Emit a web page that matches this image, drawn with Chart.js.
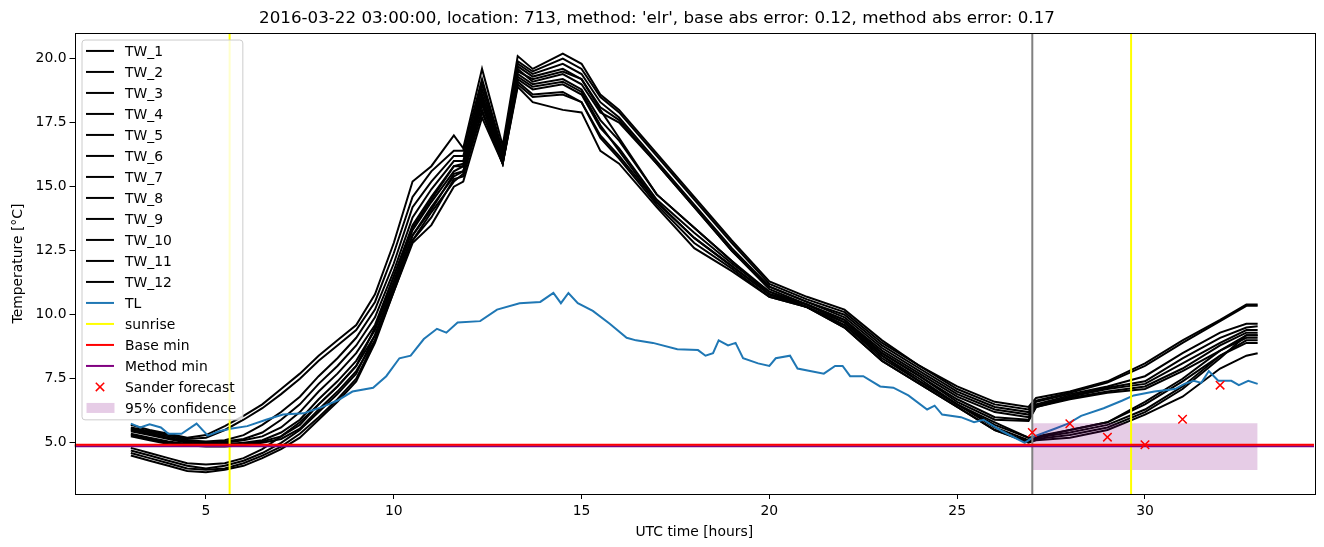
<!DOCTYPE html>
<html>
<head>
<meta charset="utf-8">
<script src="https://cdn.jsdelivr.net/npm/chart.js@4.4.0/dist/chart.umd.min.js"></script>
<style>
  html, body { margin: 0; padding: 0; background: #fff; }
</style>
</head>
<body>
<canvas id="temps" width="1324" height="547"></canvas>
<script>
// hours since 2016-03-22 00:00 UTC
const twTime = [3, 3.5, 4, 4.5, 5, 5.5, 6, 6.5, 7, 7.5, 8, 8.5, 9, 9.5, 10, 10.5, 11, 11.6, 11.85, 12.35,
  12.9, 13.3, 13.7, 14.5, 15, 15.5, 16, 17, 18, 19, 20, 21, 22, 23, 24, 25, 26, 26.9, 27.1, 28,
  29, 30, 31, 32, 32.7, 33];

const tw1 = [5.7, 5.5, 5.35, 5.2, 5.3, 5.65, 6.05, 6.5, 7.1, 7.7, 8.4, 9.0, 9.6, 10.8, 12.8, 15.2, 15.8, 17.0, 16.5, 19.6,
  16.6, 20.1, 19.6, 20.2, 19.8, 18.6, 18.0, 16.3, 14.6, 12.9, 11.3, 10.7, 10.2, 9.0, 8.0, 7.2, 6.6, 6.4, 6.75, 7.0,
  7.4, 8.1, 9.0, 9.8, 10.4, 10.4];
const tw2 = [5.6, 5.45, 5.3, 5.15, 5.2, 5.5, 5.9, 6.35, 6.9, 7.5, 8.2, 8.8, 9.4, 10.5, 12.4, 14.6, 15.6, 16.4, 16.4, 19.2,
  16.4, 19.9, 19.5, 20.0, 19.6, 18.5, 17.9, 16.2, 14.5, 12.8, 11.2, 10.6, 10.1, 8.9, 8.0, 7.1, 6.5, 6.3, 6.65, 6.95,
  7.35, 8.0, 8.9, 9.75, 10.35, 10.35];
const tw3 = [5.55, 5.4, 5.25, 5.1, 5.05, 5.1, 5.3, 5.7, 6.2, 6.8, 7.6, 8.3, 9.1, 10.2, 12.0, 14.2, 15.2, 16.2, 16.2, 19.0,
  16.3, 19.8, 19.4, 19.8, 19.4, 18.3, 17.7, 16.0, 14.3, 12.6, 11.1, 10.5, 10.0, 8.8, 7.9, 7.0, 6.4, 6.2, 6.6, 6.9,
  7.2, 7.6, 8.5, 9.3, 9.65, 9.65];
const tw4 = [5.5, 5.35, 5.2, 5.05, 5.0, 5.05, 5.15, 5.4, 5.9, 6.5, 7.3, 8.0, 8.8, 9.9, 11.7, 13.8, 14.9, 16.0, 16.0, 18.8,
  16.2, 19.7, 19.3, 19.6, 19.2, 18.1, 17.6, 15.9, 14.2, 12.5, 11.1, 10.5, 9.9, 8.7, 7.8, 6.9, 6.3, 6.1, 6.5, 6.85,
  7.15, 7.4, 8.3, 9.1, 9.5, 9.55];
const tw5 = [5.45, 5.3, 5.15, 5.0, 4.95, 5.0, 5.1, 5.25, 5.6, 6.2, 7.0, 7.7, 8.5, 9.6, 11.5, 13.5, 14.6, 15.8, 15.9, 18.6,
  16.1, 19.6, 19.1, 19.4, 19.0, 17.9, 17.5, 15.9, 14.2, 12.5, 11.0, 10.4, 9.8, 8.6, 7.7, 6.8, 6.2, 6.0, 6.45, 6.8,
  7.1, 7.3, 8.1, 8.9, 9.4, 9.4];
const tw6 = [5.35, 5.2, 5.05, 4.95, 4.9, 4.95, 5.0, 5.1, 5.4, 5.9, 6.7, 7.4, 8.2, 9.4, 11.3, 13.3, 14.4, 15.6, 15.8, 18.4,
  16.0, 19.4, 19.0, 19.2, 18.8, 17.6, 16.8, 14.7, 13.4, 12.1, 10.9, 10.4, 9.8, 8.5, 7.6, 6.7, 6.0, 5.9, 6.4, 6.75,
  7.0, 7.2, 7.9, 8.8, 9.3, 9.3];
const tw7 = [5.3, 5.15, 5.0, 4.95, 4.9, 4.9, 4.95, 5.05, 5.25, 5.7, 6.5, 7.2, 8.0, 9.2, 11.1, 13.1, 14.2, 15.4, 15.6, 18.2,
  15.9, 19.2, 18.8, 19.0, 18.6, 17.3, 16.5, 14.5, 13.2, 12.0, 10.9, 10.3, 9.7, 8.5, 7.6, 6.6, 5.9, 5.85, 6.4, 6.7,
  6.95, 7.1, 7.8, 8.6, 9.2, 9.2];
const tw8 = [5.25, 5.1, 4.95, 4.9, 4.85, 4.85, 4.9, 5.0, 5.15, 5.55, 6.3, 7.0, 7.8, 9.0, 10.9, 12.9, 14.0, 15.2, 15.5, 17.9,
  15.9, 19.0, 18.5, 18.6, 18.3, 17.0, 16.2, 14.4, 13.0, 11.9, 10.8, 10.3, 9.6, 8.4, 7.5, 6.5, 5.8, 5.2, 5.2, 5.5,
  5.8, 6.6, 7.5, 8.6, 9.1, 9.1];
const tw9 = [4.8, 4.6, 4.4, 4.2, 4.15, 4.2, 4.4, 4.75, 5.25, 5.8, 6.5, 7.2, 8.0, 9.5, 11.5, 13.4, 14.5, 15.8, 15.8, 18.5,
  16.2, 19.5, 19.2, 19.5, 19.2, 18.0, 16.9, 14.7, 13.4, 12.1, 10.8, 10.4, 9.7, 8.4, 7.4, 6.5, 5.7, 5.2, 5.25, 5.5,
  5.8, 6.5, 7.4, 8.4, 8.9, 8.9];
const tw10 = [4.7, 4.5, 4.3, 4.1, 4.0, 4.1, 4.3, 4.6, 5.0, 5.5, 6.2, 6.9, 7.7, 9.2, 11.2, 13.1, 14.1, 15.5, 15.6, 18.3,
  16.0, 19.3, 18.9, 19.1, 18.7, 17.4, 16.4, 14.4, 13.0, 11.9, 10.8, 10.3, 9.6, 8.3, 7.4, 6.5, 5.6, 5.1, 5.2, 5.4,
  5.7, 6.3, 7.2, 8.4, 9.0, 9.0];
const tw11 = [4.6, 4.4, 4.2, 4.0, 3.95, 4.0, 4.2, 4.5, 4.85, 5.35, 6.0, 6.7, 7.5, 9.0, 11.0, 12.9, 13.8, 15.3, 15.4, 18.0,
  15.9, 19.1, 18.6, 18.7, 18.3, 16.9, 16.1, 14.3, 12.8, 11.8, 10.7, 10.3, 9.5, 8.2, 7.3, 6.4, 5.5, 5.05, 5.15, 5.3,
  5.6, 6.2, 7.1, 8.3, 9.2, 9.2];
const tw12 = [4.5, 4.3, 4.1, 3.9, 3.85, 3.95, 4.1, 4.4, 4.75, 5.2, 5.9, 6.6, 7.4, 8.9, 10.9, 12.8, 13.5, 15.0, 15.2, 17.7,
  15.9, 18.9, 18.3, 18.0, 17.9, 16.4, 15.9, 14.2, 12.6, 11.7, 10.7, 10.3, 9.5, 8.2, 7.3, 6.4, 5.5, 5.0, 5.1, 5.2,
  5.5, 6.1, 6.8, 7.9, 8.4, 8.5];
const twSeries = [tw1, tw2, tw3, tw4, tw5, tw6, tw7, tw8, tw9, tw10, tw11, tw12];

const tlTime = [3.0, 3.25, 3.5, 3.8, 4.0, 4.35, 4.75, 5.05, 5.35, 5.65, 6.1, 6.6, 7.05, 7.6, 8.1, 8.5, 8.9, 9.45, 9.8, 10.15,
  10.45, 10.8, 11.15, 11.4, 11.7, 12.3, 12.75, 13.35, 13.9, 14.25, 14.45, 14.65, 14.9, 15.3, 15.75, 16.2, 16.45, 16.9, 17.55, 18.1,
  18.3, 18.5, 18.65, 18.9, 19.1, 19.3, 19.7, 20.0, 20.17, 20.55, 20.75, 21.45, 21.75, 21.95, 22.15, 22.5, 22.95, 23.3, 23.7, 24.2,
  24.4, 24.6, 25.1, 25.45, 25.7, 26.2, 26.8, 27.05, 27.6, 27.95, 28.3, 28.9, 29.4, 29.7, 30.25, 30.8, 31.05, 31.3, 31.5, 31.7,
  31.95, 32.3, 32.5, 32.75, 33.0];
const tlTemp = [5.75, 5.6, 5.72, 5.6, 5.35, 5.35, 5.75, 5.28, 5.45, 5.55, 5.65, 5.9, 6.1, 6.15, 6.4, 6.65, 7.0, 7.15, 7.6, 8.3,
  8.4, 9.05, 9.45, 9.3, 9.7, 9.75, 10.2, 10.45, 10.5, 10.85, 10.45, 10.85, 10.45, 10.15, 9.65, 9.1, 9.0, 8.9, 8.65, 8.62,
  8.4, 8.5, 9.0, 8.8, 8.9, 8.3, 8.1, 8.0, 8.3, 8.4, 7.9, 7.7, 8.0, 8.0, 7.6, 7.6, 7.2, 7.15, 6.85, 6.3,
  6.45, 6.1, 6.0, 5.8, 5.9, 5.45, 5.0, 5.25, 5.55, 5.75, 6.05, 6.35, 6.65, 6.85, 7.0, 7.1, 7.3, 7.42, 7.34, 7.8,
  7.42, 7.42, 7.25, 7.42, 7.3];

const sunriseTimes = [5.63, 29.63];
const forecastStart = 27;
const baseMin = 4.92;
const methodMin = 4.86;
const sanderTime = [27, 28, 29, 30, 31, 32];
const sanderTemp = [5.40, 5.74, 5.22, 4.92, 5.92, 7.25];
const ciTime = [27, 33];
const ciLow = 3.94;
const ciHigh = 5.76;

const xTicks = [5, 10, 15, 20, 25, 30];
const yTicks = [5, 7.5, 10, 12.5, 15, 17.5, 20];
const xRange = [1.5, 34.5];
const yRange = [3, 21];

const FONT = "'DejaVu Sans', sans-serif";
const titleText = "2016-03-22 03:00:00, location: 713, method: 'elr', base abs error: 0.12, method abs error: 0.17";

function pts(xs, ys) {
  return xs.map((x, i) => ({ x: x, y: ys[i] }));
}

function vline(x) {
  return [{ x: x, y: yRange[0] }, { x: x, y: yRange[1] }];
}

function hline(y) {
  return [{ x: xRange[0], y: y }, { x: xRange[1], y: y }];
}

// paint = drawing position, later ones end up on top
const datasets = [];
twSeries.forEach((vals, i) => {
  datasets.push({
    label: 'TW_' + (i + 1), data: pts(twTime, vals), borderColor: '#000000',
    borderWidth: 2, pointRadius: 0, legendKind: 'line', paint: i
  });
});
datasets.push({ label: 'TL', data: pts(tlTime, tlTemp), borderColor: '#1f77b4', borderWidth: 2, pointRadius: 0, legendKind: 'line', paint: 12 });
datasets.push({ label: 'sunrise', data: vline(sunriseTimes[0]), borderColor: '#ffff00', borderWidth: 2, pointRadius: 0, legendKind: 'line', paint: 14 });
datasets.push({ label: 'sunrise_2', data: vline(sunriseTimes[1]), borderColor: '#ffff00', borderWidth: 2, pointRadius: 0, paint: 15 });
datasets.push({ label: 'Base min', data: hline(baseMin), borderColor: '#ff0000', borderWidth: 2, pointRadius: 0, legendKind: 'line', paint: 18 });
datasets.push({ label: 'Method min', data: hline(methodMin), borderColor: '#800080', borderWidth: 2, pointRadius: 0, legendKind: 'line', paint: 17 });
datasets.push({
  label: 'Sander forecast', data: pts(sanderTime, sanderTemp), showLine: false, pointStyle: 'crossRot',
  pointRadius: 6, pointBorderWidth: 1.5, pointBorderColor: '#ff0000', borderColor: '#ff0000',
  legendKind: 'marker', paint: 19
});
datasets.push({
  label: '95% confidence', data: pts(ciTime, [ciHigh, ciHigh]), borderWidth: 0, pointRadius: 0,
  borderColor: 'rgba(0,0,0,0)', backgroundColor: 'rgba(128,0,128,0.2)', fill: { value: ciLow },
  legendKind: 'patch', paint: 13
});
datasets.push({ label: 'forecast start', data: vline(forecastStart), borderColor: '#808080', borderWidth: 2, pointRadius: 0, paint: 16 });
datasets.forEach(ds => { ds.order = 100 - ds.paint; });

const framePlugin = {
  id: 'frame',
  afterDatasetsDraw(chart) {
    const { ctx, chartArea: ca } = chart;
    ctx.save();
    ctx.strokeStyle = '#000';
    ctx.lineWidth = 1;
    ctx.strokeRect(Math.round(ca.left) + 0.5, Math.round(ca.top) + 0.5,
      Math.round(ca.right - ca.left), Math.round(ca.bottom - ca.top));
    ctx.restore();
  }
};

const boxLegend = {
  id: 'boxLegend',
  afterDraw(chart) {
    const { ctx, chartArea: ca } = chart;
    const rows = chart.data.datasets.filter(ds => ds.legendKind);
    const left = ca.left + 7, top = ca.top + 6.5;
    const rowH = 21, firstRow = top + 11.4;
    const handleX0 = left + 4.5, handleX1 = left + 32.5, textX = left + 43.5;
    ctx.save();
    ctx.font = '13.9px ' + FONT;
    let maxW = 0;
    rows.forEach(r => { maxW = Math.max(maxW, ctx.measureText(r.label).width); });
    const w = textX - left + maxW + 6;
    const h = (rows.length - 1) * rowH + 22.8;
    ctx.beginPath();
    ctx.roundRect(left + 0.5, top + 0.5, w, h, 3);
    ctx.fillStyle = 'rgba(255,255,255,0.8)';
    ctx.fill();
    ctx.strokeStyle = '#cccccc';
    ctx.lineWidth = 1;
    ctx.stroke();
    rows.forEach((r, i) => {
      const y = firstRow + i * rowH;
      if (r.legendKind === 'line') {
        ctx.strokeStyle = r.borderColor;
        ctx.lineWidth = 2;
        ctx.beginPath();
        ctx.moveTo(handleX0, y);
        ctx.lineTo(handleX1, y);
        ctx.stroke();
      } else if (r.legendKind === 'marker') {
        const cx = (handleX0 + handleX1) / 2, d = 4.2;
        ctx.strokeStyle = r.pointBorderColor;
        ctx.lineWidth = 1.5;
        ctx.beginPath();
        ctx.moveTo(cx - d, y - d); ctx.lineTo(cx + d, y + d);
        ctx.moveTo(cx - d, y + d); ctx.lineTo(cx + d, y - d);
        ctx.stroke();
      } else {
        ctx.fillStyle = r.backgroundColor;
        ctx.fillRect(handleX0 + 0.5, y - 5, handleX1 - handleX0, 10);
      }
      ctx.fillStyle = '#000';
      ctx.textBaseline = 'middle';
      ctx.textAlign = 'left';
      ctx.fillText(r.label, textX, y + 1);
    });
    ctx.restore();
  }
};

const tickFont = { family: FONT, size: 13.9 };

new Chart(document.getElementById('temps'), {
  type: 'line',
  data: { datasets: datasets },
  plugins: [framePlugin, boxLegend],
  options: {
    responsive: false,
    animation: false,
    devicePixelRatio: 1,
    layout: { padding: { left: 0, right: 10, top: 0, bottom: 0 } },
    elements: { line: { tension: 0 } },
    plugins: {
      legend: { display: false },
      tooltip: { enabled: false },
      title: {
        display: true, text: titleText, color: '#000',
        font: { family: FONT, size: 16.7, weight: 'normal' },
        padding: { top: 9, bottom: 4 }
      }
    },
    scales: {
      x: {
        type: 'linear', min: xRange[0], max: xRange[1],
        afterBuildTicks: s => { s.ticks = xTicks.map(v => ({ value: v })); },
        afterFit: s => { s.height = 53; },
        grid: { drawOnChartArea: false, drawTicks: true, tickLength: 5, color: '#000', lineWidth: 1 },
        border: { display: false },
        ticks: { color: '#000', font: tickFont, padding: 4, maxRotation: 0, callback: v => String(v) },
        title: { display: true, text: 'UTC time [hours]', color: '#000', font: tickFont, padding: { top: 0, bottom: 6 } }
      },
      y: {
        type: 'linear', min: yRange[0], max: yRange[1],
        afterBuildTicks: s => { s.ticks = yTicks.map(v => ({ value: v })); },
        afterFit: s => { s.width = 74.5; },
        grid: { drawOnChartArea: false, drawTicks: true, tickLength: 5, color: '#000', lineWidth: 1 },
        border: { display: false },
        ticks: { color: '#000', font: tickFont, padding: 3, callback: v => Number(v).toFixed(1) },
        title: { display: true, text: 'Temperature [°C]', color: '#000', font: tickFont, padding: { top: 10, bottom: 0 } }
      }
    }
  }
});
</script>
</body>
</html>
